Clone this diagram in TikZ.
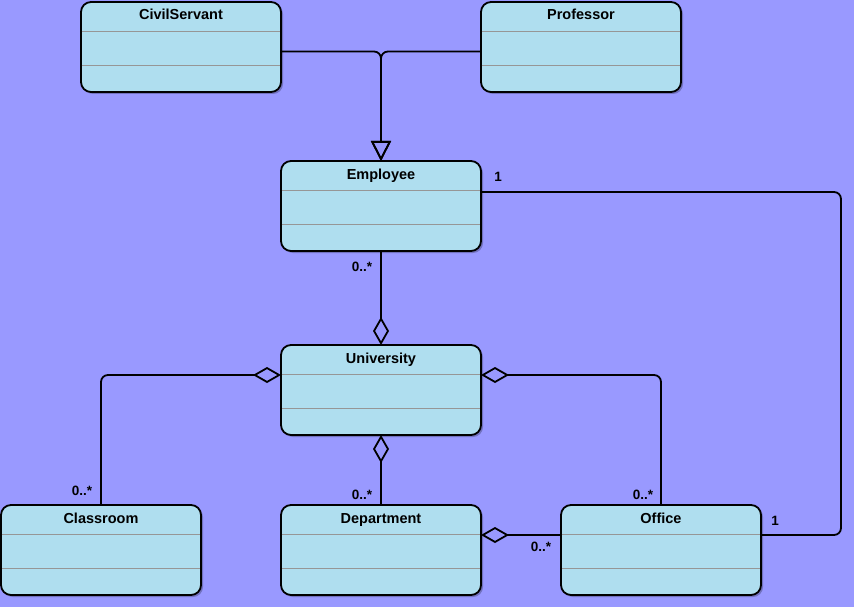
\documentclass[tikz,border=0pt]{standalone}
\usepackage{fontspec}
\setmainfont{Liberation Sans}
\usetikzlibrary{arrows.meta,calc,shadows}
\definecolor{bgc}{RGB}{153,153,255}
\definecolor{boxc}{RGB}{175,222,239}
\definecolor{sepc}{RGB}{150,150,150}
\tikzset{
  classbox/.style={draw=black, line width=1.8pt, fill=boxc, rounded corners=10pt,
    minimum width=200pt, minimum height=90pt, inner sep=0pt, outer sep=0pt,
    drop shadow={shadow xshift=2pt, shadow yshift=-2pt, opacity=0.25, fill=black}},
  classtitle/.style={font=\bfseries\fontsize{14.5}{16}\selectfont, inner sep=0pt, anchor=base},
  sepline/.style={draw=sepc, line width=0.9pt},
  conn/.style={draw=black, line width=1.8pt, rounded corners=7pt},
  mult/.style={font=\bfseries\fontsize{13.5}{15}\selectfont, inner sep=0pt},
  gen/.style={-{Triangle[open, length=20pt, width=20pt]}},
  agg/.style={{Diamond[open, length=28pt, width=16pt]}-},
}
\newcommand\mkclass[3]{%
  \node[classbox] (#1) at (#2) {};
  \node[classtitle] (#1-t) at ($(#1.north)+(0,18)$) {#3};
  \draw[sepline] ($(#1.north west)+(0.9,29)$) -- ($(#1.north east)+(-0.9,29)$);
  \draw[sepline] ($(#1.north west)+(0.9,63)$) -- ($(#1.north east)+(-0.9,63)$);
}
\begin{document}
\begin{tikzpicture}[x=1pt,y=-1pt]
\fill[bgc] (0,0) rectangle (854,607);
\useasboundingbox (0,0) rectangle (854,607);
\mkclass{cs}{181,47}{CivilServant}
\mkclass{prof}{581,47}{Professor}
\mkclass{emp}{381,206}{Employee}
\mkclass{uni}{381,390}{University}
\mkclass{cls}{101,550}{Classroom}
\mkclass{dep}{381,550}{Department}
\mkclass{off}{661,550}{Office}
% generalization
\draw[conn, gen] ($(cs.north east)+(0,49.5)$) -| (emp.north);
\draw[conn, gen] ($(prof.north west)+(0,49.5)$) -| (emp.north);
% employee - office
\coordinate (eo1) at (841,192);
\draw[conn] ($(emp.north east)+(0,31)$) -- (eo1) |- ($(off.north east)+(0,30)$);
% aggregations
\draw[conn, agg] (uni.north) -- (emp.south);
\draw[conn, agg] ($(uni.north west)+(0,30)$) -| (cls.north);
\draw[conn, agg] ($(uni.north east)+(0,30)$) -| (off.north);
\draw[conn, agg] (uni.south) -- (dep.north);
\draw[conn, agg] ($(dep.north east)+(0,30)$) -- ($(off.north west)+(0,30)$);
% multiplicities
\node[mult] (m1) at (362,267) {0..*};
\node[mult] (m2) at (498,177) {1};
\node[mult] (m3) at (82,491) {0..*};
\node[mult] (m4) at (362,495) {0..*};
\node[mult] (m5) at (643,495) {0..*};
\node[mult] (m6) at (541,547) {0..*};
\node[mult] (m7) at (775,521) {1};
\end{tikzpicture}
\end{document}
